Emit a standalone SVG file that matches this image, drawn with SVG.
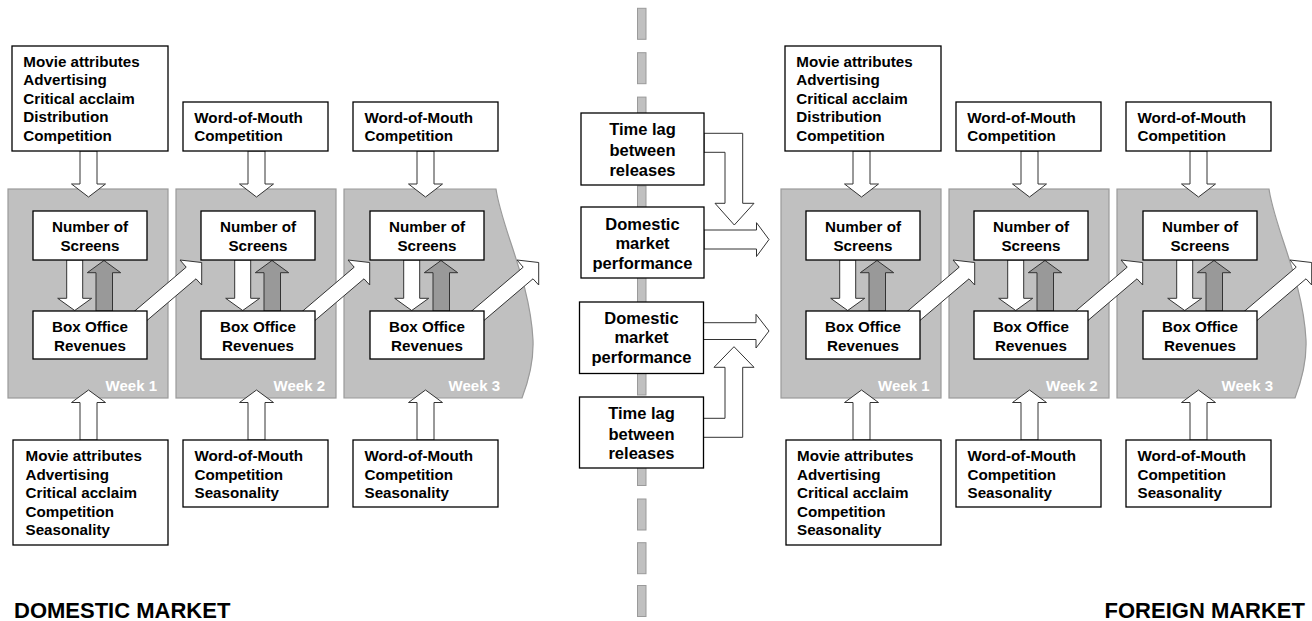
<svg xmlns="http://www.w3.org/2000/svg" width="1312" height="621" viewBox="0 0 1312 621">
<style>
.bg{fill:#fff}
.panel{fill:#c0c0c0;stroke:#9a9a9a;stroke-width:1.2}
.dash{fill:#c0c0c0;stroke:#9a9a9a;stroke-width:1}
.box{fill:#fff;stroke:#000;stroke-width:1.3}
.arr{fill:#fff;stroke:#333;stroke-width:1}
.garr{fill:#999;stroke:#333;stroke-width:1}
text{font-family:"Liberation Sans",Arial,Helvetica,sans-serif;font-weight:bold;fill:#000}
.t{font-size:15.2px}
.c{text-anchor:middle}
.m{font-size:16.5px;text-anchor:middle}
.wk{font-size:15px;fill:#fff;text-anchor:end}
.big{font-size:22px}
</style>
<rect class="bg" x="0" y="0" width="1312" height="621"/>

<g id="divider">
<rect class="dash" x="637.5" y="8.3" width="8.5" height="31"/>
<rect class="dash" x="637.5" y="52.7" width="8.5" height="31"/>
<rect class="dash" x="637.5" y="97.1" width="8.5" height="31"/>
<rect class="dash" x="637.5" y="141.5" width="8.5" height="31"/>
<rect class="dash" x="637.5" y="185.9" width="8.5" height="31"/>
<rect class="dash" x="637.5" y="230.3" width="8.5" height="31"/>
<rect class="dash" x="637.5" y="274.7" width="8.5" height="31"/>
<rect class="dash" x="637.5" y="319.1" width="8.5" height="31"/>
<rect class="dash" x="637.5" y="364" width="8.5" height="31"/>
<rect class="dash" x="637.5" y="408.5" width="8.5" height="31"/>
<rect class="dash" x="637.5" y="454.5" width="8.5" height="31"/>
<rect class="dash" x="637.5" y="499" width="8.5" height="31"/>
<rect class="dash" x="637.5" y="542.7" width="8.5" height="31"/>
<rect class="dash" x="637.5" y="585.5" width="8.5" height="31"/>
</g>

<g id="panels">
<g id="d-week1"><rect class="panel" x="8" y="189" width="160" height="209"/><text class="wk" x="157" y="391">Week 1</text></g>
<g id="d-week2"><rect class="panel" x="176" y="189" width="160" height="209"/><text class="wk" x="325" y="391">Week 2</text></g>
<g id="d-week3"><path class="panel" d="M344,189 H496 C502,230 530,280 533,340 C534,365 527,385 522,398 H344 Z"/><text class="wk" x="500" y="391">Week 3</text></g>
<g id="f-week1"><rect class="panel" x="781" y="189" width="160" height="209"/><text class="wk" x="929.5" y="391">Week 1</text></g>
<g id="f-week2"><rect class="panel" x="949" y="189" width="160" height="209"/><text class="wk" x="1097.5" y="391">Week 2</text></g>
<g id="f-week3"><path class="panel" d="M1117,189 H1269 C1275,230 1303,280 1306,340 C1307,365 1300,385 1295,398 H1117 Z"/><text class="wk" x="1273" y="391">Week 3</text></g>
</g>

<g id="connectors">
<!-- top inputs -->
<polygon class="arr" points="80,151 97,151 97,184 105.5,184 88.5,197 71.5,184 80,184"/>
<polygon class="arr" points="248,151 265,151 265,184 273.5,184 256.5,197 239.5,184 248,184"/>
<polygon class="arr" points="417,151 434,151 434,184 442.5,184 425.5,197 408.5,184 417,184"/>
<polygon class="arr" points="853,151 870,151 870,184 878.5,184 861.5,197 844.5,184 853,184"/>
<polygon class="arr" points="1021,151 1038,151 1038,184 1046.5,184 1029.5,197 1012.5,184 1021,184"/>
<polygon class="arr" points="1190,151 1207,151 1207,184 1215.5,184 1198.5,197 1181.5,184 1190,184"/>
<!-- bottom inputs -->
<polygon class="arr" points="88.5,390 105.5,402.5 97,402.5 97,440 80,440 80,402.5 71.5,402.5"/>
<polygon class="arr" points="256.5,390 273.5,402.5 265,402.5 265,440 248,440 248,402.5 239.5,402.5"/>
<polygon class="arr" points="425.5,390 442.5,402.5 434,402.5 434,440 417,440 417,402.5 408.5,402.5"/>
<polygon class="arr" points="861.5,390 878.5,402.5 870,402.5 870,440 853,440 853,402.5 844.5,402.5"/>
<polygon class="arr" points="1029.5,390 1046.5,402.5 1038,402.5 1038,440 1021,440 1021,402.5 1012.5,402.5"/>
<polygon class="arr" points="1198.5,390 1215.5,402.5 1207,402.5 1207,440 1190,440 1190,402.5 1181.5,402.5"/>
<!-- screens -> revenues (white) -->
<polygon class="arr" points="66.7,260 82.7,260 82.7,298.3 91.7,298.3 74.7,310.5 57.7,298.3 66.7,298.3"/>
<polygon class="arr" points="234.7,260 250.7,260 250.7,298.3 259.7,298.3 242.7,310.5 225.7,298.3 234.7,298.3"/>
<polygon class="arr" points="403.7,260 419.7,260 419.7,298.3 428.7,298.3 411.7,310.5 394.7,298.3 403.7,298.3"/>
<polygon class="arr" points="839.7,260 855.7,260 855.7,298.3 864.7,298.3 847.7,310.5 830.7,298.3 839.7,298.3"/>
<polygon class="arr" points="1007.7,260 1023.7,260 1023.7,298.3 1032.7,298.3 1015.7,310.5 998.7,298.3 1007.7,298.3"/>
<polygon class="arr" points="1176.7,260 1192.7,260 1192.7,298.3 1201.7,298.3 1184.7,310.5 1167.7,298.3 1176.7,298.3"/>
<!-- revenues -> screens (gray) -->
<polygon class="garr" points="104,260.5 120.7,272.7 112.5,272.7 112.5,311 96,311 96,272.7 87.3,272.7"/>
<polygon class="garr" points="272,260.5 288.7,272.7 280.5,272.7 280.5,311 264,311 264,272.7 255.3,272.7"/>
<polygon class="garr" points="441,260.5 457.7,272.7 449.5,272.7 449.5,311 433,311 433,272.7 424.3,272.7"/>
<polygon class="garr" points="877,260.5 893.7,272.7 885.5,272.7 885.5,311 869,311 869,272.7 860.3,272.7"/>
<polygon class="garr" points="1045,260.5 1061.7,272.7 1053.5,272.7 1053.5,311 1037,311 1037,272.7 1028.3,272.7"/>
<polygon class="garr" points="1214,260.5 1230.7,272.7 1222.5,272.7 1222.5,311 1206,311 1206,272.7 1197.3,272.7"/>
<!-- week to week diagonals -->
<polygon class="arr" points="118,325.2 186.2,267.2 180,260 201.7,262.5 201.7,285 196,278.8 128,336.6"/>
<polygon class="arr" points="286,325.2 354.2,267.2 348,260 369.7,262.5 369.7,285 364,278.8 296,336.6"/>
<polygon class="arr" points="455,325.2 523.2,267.2 517,260 538.7,262.5 538.7,285 533,278.8 465,336.6"/>
<polygon class="arr" points="891,325.2 959.2,267.2 953,260 974.7,262.5 974.7,285 969,278.8 901,336.6"/>
<polygon class="arr" points="1059,325.2 1127.2,267.2 1121,260 1142.7,262.5 1142.7,285 1137,278.8 1069,336.6"/>
<polygon class="arr" points="1228,325.2 1296.2,267.2 1290,260 1311.7,262.5 1311.7,285 1306,278.8 1238,336.6"/>
<!-- centre links -->
<polygon class="arr" points="704,133.3 742.7,133.3 742.7,203.3 754,203.3 734.3,225 715,203.3 725,203.3 725,152.3 704,152.3"/>
<polygon class="arr" points="704,230 756.5,230 756.5,222.7 769,239.5 756.5,256.5 756.5,249 704,249"/>
<polygon class="arr" points="703,322.7 756,322.7 756,314.3 769,331 756,348 756,339.5 703,339.5"/>
<polygon class="arr" points="703,437.3 742.7,437.3 742.7,367.3 754,367.3 734,346.7 714,367.3 725,367.3 725,418.3 703,418.3"/>
</g>

<!-- DOMESTIC nodes -->
<g id="d-top1"><rect class="box" x="12" y="46" width="156" height="105"/>
<text class="t"><tspan x="23.3" y="66.5">Movie attributes</tspan><tspan x="23.3" y="85">Advertising</tspan><tspan x="23.3" y="103.5">Critical acclaim</tspan><tspan x="23.3" y="122">Distribution</tspan><tspan x="23.3" y="140.5">Competition</tspan></text></g>
<g id="d-top2"><rect class="box" x="183" y="102" width="145" height="49"/>
<text class="t"><tspan x="194.3" y="122.5">Word-of-Mouth</tspan><tspan x="194.3" y="141">Competition</tspan></text></g>
<g id="d-top3"><rect class="box" x="353" y="102" width="145" height="49"/>
<text class="t"><tspan x="364.5" y="122.5">Word-of-Mouth</tspan><tspan x="364.5" y="141">Competition</tspan></text></g>

<g id="d-screens1"><rect class="box" x="33" y="211" width="114" height="49"/><text class="t c"><tspan x="90" y="231.5">Number of</tspan><tspan x="90" y="250.5">Screens</tspan></text></g>
<g id="d-screens2"><rect class="box" x="201" y="211" width="114" height="49"/><text class="t c"><tspan x="258" y="231.5">Number of</tspan><tspan x="258" y="250.5">Screens</tspan></text></g>
<g id="d-screens3"><rect class="box" x="370" y="211" width="114" height="49"/><text class="t c"><tspan x="427" y="231.5">Number of</tspan><tspan x="427" y="250.5">Screens</tspan></text></g>
<g id="d-revenue1"><rect class="box" x="33" y="311" width="114" height="48"/><text class="t c"><tspan x="90" y="331.5">Box Office</tspan><tspan x="90" y="350.5">Revenues</tspan></text></g>
<g id="d-revenue2"><rect class="box" x="201" y="311" width="114" height="48"/><text class="t c"><tspan x="258" y="331.5">Box Office</tspan><tspan x="258" y="350.5">Revenues</tspan></text></g>
<g id="d-revenue3"><rect class="box" x="370" y="311" width="114" height="48"/><text class="t c"><tspan x="427" y="331.5">Box Office</tspan><tspan x="427" y="350.5">Revenues</tspan></text></g>

<g id="d-bot1"><rect class="box" x="13" y="440" width="155" height="105"/>
<text class="t"><tspan x="25.5" y="461">Movie attributes</tspan><tspan x="25.5" y="479.5">Advertising</tspan><tspan x="25.5" y="498">Critical acclaim</tspan><tspan x="25.5" y="516.5">Competition</tspan><tspan x="25.5" y="535">Seasonality</tspan></text></g>
<g id="d-bot2"><rect class="box" x="183" y="440" width="145" height="67"/>
<text class="t"><tspan x="194.5" y="461">Word-of-Mouth</tspan><tspan x="194.5" y="479.5">Competition</tspan><tspan x="194.5" y="498">Seasonality</tspan></text></g>
<g id="d-bot3"><rect class="box" x="353" y="440" width="145" height="67"/>
<text class="t"><tspan x="364.5" y="461">Word-of-Mouth</tspan><tspan x="364.5" y="479.5">Competition</tspan><tspan x="364.5" y="498">Seasonality</tspan></text></g>

<!-- CENTRE nodes -->
<g id="c-lag1"><rect class="box" x="581" y="113" width="123" height="72"/><text class="m"><tspan x="642.5" y="135">Time lag</tspan><tspan x="642.5" y="155.5">between</tspan><tspan x="642.5" y="175.5">releases</tspan></text></g>
<g id="c-dom1"><rect class="box" x="581" y="207" width="123" height="71"/><text class="m"><tspan x="642.5" y="229.5">Domestic</tspan><tspan x="642.5" y="249">market</tspan><tspan x="642.5" y="268.5">performance</tspan></text></g>
<g id="c-dom2"><rect class="box" x="579.5" y="302" width="124" height="71.5"/><text class="m"><tspan x="641.5" y="323.5">Domestic</tspan><tspan x="641.5" y="343">market</tspan><tspan x="641.5" y="362.5">performance</tspan></text></g>
<g id="c-lag2"><rect class="box" x="579.5" y="397" width="124" height="71"/><text class="m"><tspan x="641.5" y="419">Time lag</tspan><tspan x="641.5" y="439.5">between</tspan><tspan x="641.5" y="458.5">releases</tspan></text></g>

<!-- FOREIGN nodes -->
<g id="f-top1"><rect class="box" x="785" y="46" width="156" height="105"/>
<text class="t"><tspan x="796.3" y="66.5">Movie attributes</tspan><tspan x="796.3" y="85">Advertising</tspan><tspan x="796.3" y="103.5">Critical acclaim</tspan><tspan x="796.3" y="122">Distribution</tspan><tspan x="796.3" y="140.5">Competition</tspan></text></g>
<g id="f-top2"><rect class="box" x="956" y="102" width="145" height="49"/>
<text class="t"><tspan x="967.3" y="122.5">Word-of-Mouth</tspan><tspan x="967.3" y="141">Competition</tspan></text></g>
<g id="f-top3"><rect class="box" x="1126" y="102" width="145" height="49"/>
<text class="t"><tspan x="1137.5" y="122.5">Word-of-Mouth</tspan><tspan x="1137.5" y="141">Competition</tspan></text></g>

<g id="f-screens1"><rect class="box" x="806" y="211" width="114" height="49"/><text class="t c"><tspan x="863" y="231.5">Number of</tspan><tspan x="863" y="250.5">Screens</tspan></text></g>
<g id="f-screens2"><rect class="box" x="974" y="211" width="114" height="49"/><text class="t c"><tspan x="1031" y="231.5">Number of</tspan><tspan x="1031" y="250.5">Screens</tspan></text></g>
<g id="f-screens3"><rect class="box" x="1143" y="211" width="114" height="49"/><text class="t c"><tspan x="1200" y="231.5">Number of</tspan><tspan x="1200" y="250.5">Screens</tspan></text></g>
<g id="f-revenue1"><rect class="box" x="806" y="311" width="114" height="48"/><text class="t c"><tspan x="863" y="331.5">Box Office</tspan><tspan x="863" y="350.5">Revenues</tspan></text></g>
<g id="f-revenue2"><rect class="box" x="974" y="311" width="114" height="48"/><text class="t c"><tspan x="1031" y="331.5">Box Office</tspan><tspan x="1031" y="350.5">Revenues</tspan></text></g>
<g id="f-revenue3"><rect class="box" x="1143" y="311" width="114" height="48"/><text class="t c"><tspan x="1200" y="331.5">Box Office</tspan><tspan x="1200" y="350.5">Revenues</tspan></text></g>

<g id="f-bot1"><rect class="box" x="786" y="440" width="155" height="105"/>
<text class="t"><tspan x="797" y="461">Movie attributes</tspan><tspan x="797" y="479.5">Advertising</tspan><tspan x="797" y="498">Critical acclaim</tspan><tspan x="797" y="516.5">Competition</tspan><tspan x="797" y="535">Seasonality</tspan></text></g>
<g id="f-bot2"><rect class="box" x="956" y="440" width="145" height="67"/>
<text class="t"><tspan x="967.5" y="461">Word-of-Mouth</tspan><tspan x="967.5" y="479.5">Competition</tspan><tspan x="967.5" y="498">Seasonality</tspan></text></g>
<g id="f-bot3"><rect class="box" x="1126" y="440" width="145" height="67"/>
<text class="t"><tspan x="1137.5" y="461">Word-of-Mouth</tspan><tspan x="1137.5" y="479.5">Competition</tspan><tspan x="1137.5" y="498">Seasonality</tspan></text></g>

<g id="titles">
<text class="big" x="14" y="618">DOMESTIC MARKET</text>
<text class="big" x="1305" y="618" text-anchor="end">FOREIGN MARKET</text>
</g>
</svg>
